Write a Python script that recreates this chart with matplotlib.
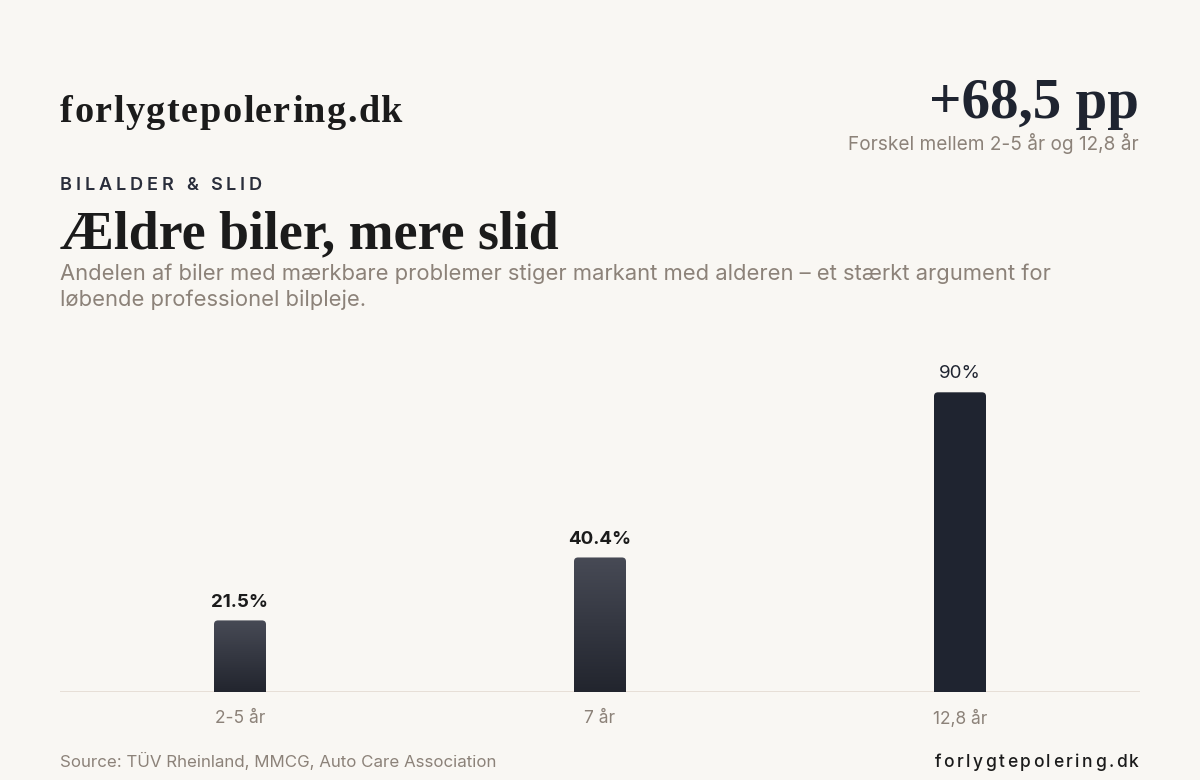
import matplotlib
matplotlib.use("Agg")
import matplotlib.pyplot as plt
import numpy as np
from matplotlib.patches import FancyBboxPatch
from matplotlib.colors import LinearSegmentedColormap

categories = ["2-5 år", "7 år", "12,8 år"]
values = [21.5, 40.4, 90]
value_labels = ["21.5%", "40.4%", "90%"]

brand = "forlygtepolering.dk"
kicker = "BILALDER & SLID"
title = "Ældre biler, mere slid"
subtitle = ("Andelen af biler med mærkbare problemer stiger markant med alderen – et stærkt argument for\n"
            "løbende professionel bilpleje.")
stat_value = "+68,5 pp"
stat_note = "Forskel mellem 2-5 år og 12,8 år"
source = "Source: TÜV Rheinland, MMCG, Auto Care Association"

BG = "#f9f7f3"
INK = "#1f2430"
DARK = "#1b1b1b"
MUTED = "#8c8279"
SERIF = ["Liberation Serif", "DejaVu Serif"]
SANS = ["Inter", "DejaVu Sans"]

W, H = 1200, 780
fig = plt.figure(figsize=(12, 7.8), dpi=100, facecolor=BG)


def fx(x):
    return x / W


def fy(y):
    return 1 - y / H


def spaced(x, y, s, spacing, ha="left", **kw):
    # draw text with extra letter spacing (pixels), char by char
    r = fig.canvas.get_renderer()

    def width(t):
        tt = fig.text(0, 0, t + "l", **kw)
        w = tt.get_window_extent(r).width
        tt.remove()
        return w

    base = width("")
    starts = [width(s[:i]) - base + i * spacing for i in range(len(s))]
    total = width(s) - base + (len(s) - 1) * spacing
    x0 = x - total if ha == "right" else x
    for ch, st in zip(s, starts):
        fig.text(fx(x0 + st), fy(y), ch, ha="left", **kw)


# header
spaced(60, 122, brand, 1.5, family=SERIF, weight="bold", size=27.5, color=DARK, va="baseline")
fig.text(fx(1139), fy(118), stat_value, family=SERIF, weight="bold", size=41, color=INK,
         va="baseline", ha="right")
fig.text(fx(1139), fy(150), stat_note, family=SANS, size=13.7, color=MUTED, va="baseline", ha="right")
spaced(60, 190, kicker, 3.9, family=SANS, weight="semibold", size=13, color="#2a2e3b", va="baseline")
fig.text(fx(60), fy(248), title, family=SERIF, weight="bold", size=38.8, color=DARK, va="baseline")
fig.text(fx(60), fy(264), subtitle, family=SANS, size=15.8, color=MUTED, va="top", linespacing=1.32)

# footer
fig.text(fx(60), fy(767), source, family=SANS, size=12.2, color=MUTED, va="baseline")
spaced(1139, 767, brand, 2.5, ha="right", family=SANS, weight="medium", size=12.5, color=DARK,
       va="baseline")

# chart
ax = fig.add_axes([fx(60), 88 / H, 1080 / W, 333 / H])
ax.set_facecolor(BG)
for sp in ax.spines.values():
    sp.set_visible(False)
ax.axhline(0, color="#e4dbd2", lw=1.2, zorder=1)

x = np.arange(len(categories))
bar_w = 52 / 360
bars = ax.bar(x, values, width=bar_w, color="none", zorder=2)

rx = 4 / 360
ry = 4 * 100 / 333
grad = LinearSegmentedColormap.from_list("g", ["#22252e", "#474a55"])
top = int(np.argmax(values))
for i, b in enumerate(bars):
    x0, h = b.get_x(), b.get_height()
    patch = FancyBboxPatch((x0, -ry), bar_w, h + ry,
                           boxstyle=f"round,pad=0,rounding_size={rx}",
                           mutation_aspect=ry / rx, lw=0, zorder=2)
    if i == top:
        patch.set_facecolor(INK)
        ax.add_patch(patch)
    else:
        patch.set_facecolor("none")
        ax.add_patch(patch)
        im = ax.imshow(np.linspace(0, 1, 100).reshape(-1, 1), cmap=grad, origin="lower",
                       extent=(x0, x0 + bar_w, 0, h), aspect="auto", zorder=2)
        im.set_clip_path(patch)
    ax.annotate(value_labels[i], (b.get_x() + bar_w / 2, h), xytext=(0, 10), textcoords="offset points",
                ha="center", va="baseline", family=SANS, size=13.5,
                weight="normal" if i == top else "bold", color=INK if i == top else DARK)

ax.set_xlim(-0.5, len(categories) - 0.5)
ax.set_ylim(0, 100)
ax.set_yticks([])
ax.set_xticks(x, categories)
ax.tick_params(axis="x", length=0, pad=13, labelsize=12.5, labelcolor=MUTED)
for t in ax.get_xticklabels():
    t.set_family(SANS)

fig.savefig("out.png", dpi=100, facecolor=BG)
